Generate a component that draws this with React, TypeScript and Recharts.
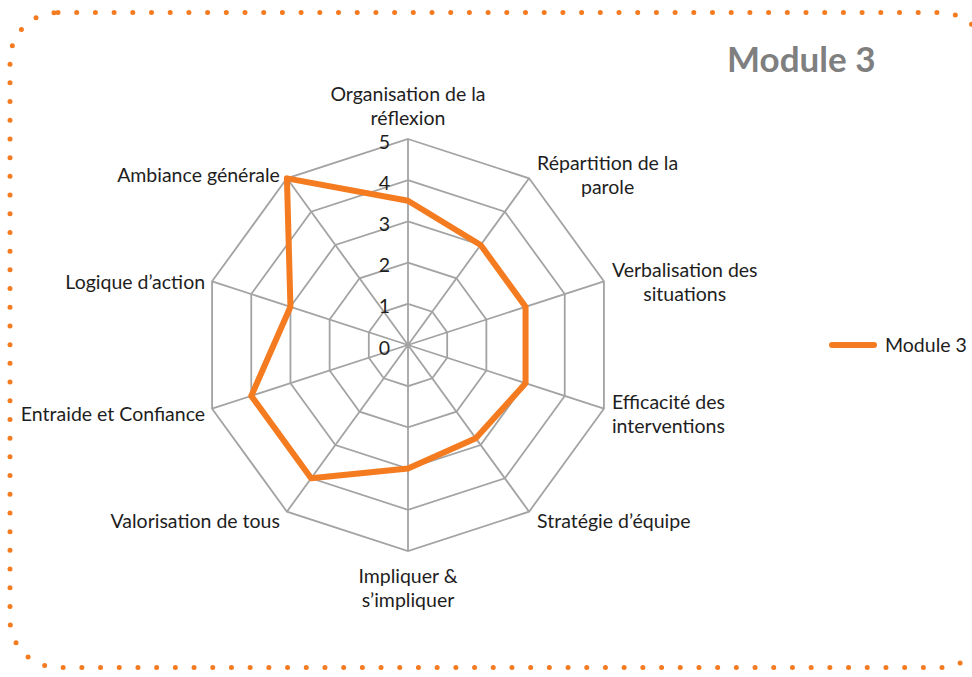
import React from 'react';
import {
  RadarChart,
  Radar,
  PolarGrid,
  PolarAngleAxis,
  PolarRadiusAxis,
  Legend,
} from 'recharts';

// axis categories, '\n' marks the line break used in the original labels
const categories = [
  'Organisation de la\nréflexion',
  'Répartition de la\nparole',
  'Verbalisation des\nsituations',
  'Efficacité des\ninterventions',
  'Stratégie d’équipe',
  'Impliquer &\ns’impliquer',
  'Valorisation de tous',
  'Entraide et Confiance',
  'Logique d’action',
  'Ambiance générale',
];

const module3 = [3.5, 3, 3, 3, 2.8, 3, 4, 4, 3, 5];
const radiusTicks = [0, 1, 2, 3, 4, 5];
const seriesName = 'Module 3';

const data = categories.map((category, i) => ({ category, value: module3[i] }));

const W = 972;
const H = 677;
const CX = 408;
const CY = 345;
const R = 206;
const FONT = 'Lato, "Open Sans", sans-serif';
const FONT_SIZE = 19.5;
const ORANGE = '#F47B20';
const GRID = '#a3a3a3';

let ctx: CanvasRenderingContext2D | null = null;
function measure(s: string) {
  if (!ctx) ctx = document.createElement('canvas').getContext('2d');
  if (!ctx) return s.length * 9;
  ctx.font = `${FONT_SIZE}px Lato`;
  return ctx.measureText(s).width;
}

function AngleTick(props: any) {
  const { payload } = props;
  const lines = String(payload.value).split('\n');
  const a = (payload.coordinate * Math.PI) / 180;
  const c = Math.cos(a);
  const s = Math.sin(a);
  const vx = CX + R * c;
  const vy = CY - R * s;
  const LH = 24;
  let x: number;
  let firstY: number;
  if (Math.abs(c) < 0.05) {
    x = vx;
    firstY = s > 0 ? vy - 22 - (lines.length - 1) * LH : vy + 24;
  } else {
    const w = Math.max(...lines.map(measure));
    x = c > 0 ? vx + 8 + w / 2 : vx - 7 - w / 2;
    const centerY = vy + 2.5 - 8 * s;
    firstY = centerY - ((lines.length - 1) * LH) / 2;
  }
  return (
    <text textAnchor="middle" fontFamily={FONT} fontSize={FONT_SIZE} fill="#1e1e1e">
      {lines.map((l, i) => (
        <tspan key={i} x={x} y={firstY + i * LH} dominantBaseline="central">
          {l}
        </tspan>
      ))}
    </text>
  );
}

function RadiusTick(props: any) {
  const { x, y, payload } = props;
  return (
    <text
      x={x - 18}
      y={y + 2}
      textAnchor="end"
      dominantBaseline="central"
      fontFamily={FONT}
      fontSize={FONT_SIZE}
      fill="#1e1e1e"
    >
      {payload.value}
    </text>
  );
}

function LegendContent() {
  return (
    <div style={{ display: 'flex', alignItems: 'center' }}>
      <svg width={52} height={12}>
        <line x1={4} y1={6} x2={46} y2={6} stroke={ORANGE} strokeWidth={6} strokeLinecap="round" />
      </svg>
      <span style={{ fontFamily: FONT, fontSize: FONT_SIZE, color: '#1e1e1e', marginLeft: 5 }}>
        {seriesName}
      </span>
    </div>
  );
}

export default function App() {
  return (
    <div style={{ position: 'absolute', left: 0, top: 0, width: W, height: H, background: '#fff', overflow: 'hidden' }}>
      <svg width={W} height={H} style={{ position: 'absolute', left: 0, top: 0 }}>
        <rect
          x={10}
          y={12.5}
          width={978}
          height={655}
          rx={48}
          ry={48}
          fill="none"
          stroke={ORANGE}
          strokeWidth={5}
          strokeDasharray="0 18.7"
          strokeLinecap="round"
        />
      </svg>
      <div
        style={{
          position: 'absolute',
          left: 727,
          top: 37,
          fontFamily: FONT,
          fontWeight: 700,
          fontSize: 35,
          color: '#7f7f7f',
        }}
      >
        {seriesName}
      </div>
      <div style={{ position: 'absolute', left: 0, top: 0 }}>
        <RadarChart width={W} height={H} data={data} cx={CX} cy={CY} outerRadius={R} startAngle={90} endAngle={-270}>
          <PolarGrid gridType="polygon" stroke={GRID} strokeWidth={1.8} />
          <PolarAngleAxis dataKey="category" tick={<AngleTick />} tickLine={false} axisLine={false} />
          <PolarRadiusAxis
            angle={90}
            domain={[0, 5]}
            ticks={radiusTicks}
            tickCount={6}
            tick={<RadiusTick />}
            tickLine={false}
            axisLine={false}
          />
          <Radar
            name={seriesName}
            dataKey="value"
            stroke={ORANGE}
            strokeWidth={6}
            strokeLinejoin="round"
            fill="none"
            fillOpacity={0}
            dot={false}
            isAnimationActive={false}
          />
          <Legend
            content={<LegendContent />}
            wrapperStyle={{ position: 'absolute', left: 828, top: 333, width: 'auto' }}
          />
        </RadarChart>
      </div>
    </div>
  );
}
